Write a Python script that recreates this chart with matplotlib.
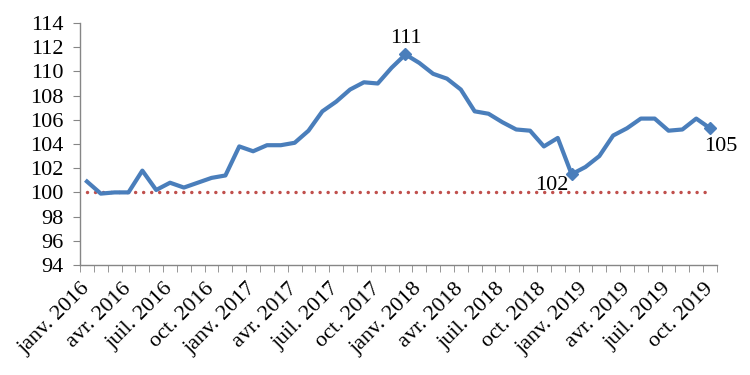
import matplotlib
matplotlib.use("Agg")
import matplotlib.pyplot as plt
import numpy as np

months = ["janv.", "févr.", "mars", "avr.", "mai", "juin", "juil.", "août", "sept.", "oct.", "nov.", "déc."]
years = [2016, 2017, 2018, 2019]
categories = [f"{m} {y}" for y in years for m in months][:46]

values = [100.9, 99.9, 100.0, 100.0, 101.8, 100.2, 100.8, 100.4, 100.8, 101.2,
          101.4, 103.8, 103.4, 103.9, 103.9, 104.1, 105.1, 106.7, 107.5, 108.5,
          109.1, 109.0, 110.3, 111.4, 110.7, 109.8, 109.4, 108.5, 106.7, 106.5,
          105.8, 105.2, 105.1, 103.8, 104.5, 101.5, 102.1, 103.0, 104.7, 105.3,
          106.1, 106.1, 105.1, 105.2, 106.1, 105.3]
reference = [100.0] * len(values)

labelled = {23: "111", 35: "102", 45: "105"}

plt.rcParams['font.family'] = ['Liberation Serif', 'DejaVu Serif']

fig = plt.figure(figsize=(7.5, 3.75), dpi=100)
ax = fig.add_axes([0.1067, 0.2933, 0.956 - 0.1067, 0.9387 - 0.2933])

x = np.arange(len(values))
ax.plot(x, reference, color="#C0504D", linestyle=(0, (0.01, 2.3)), linewidth=2.5,
        dash_capstyle="round", zorder=2)
ax.plot(x, values, color="#4A7EBB", linewidth=3.0, solid_joinstyle="round", zorder=3)

for i, txt in labelled.items():
    ax.plot([x[i]], [values[i]], marker="D", color="#4A7EBB", markersize=6, zorder=4)
    if i == 23:
        ax.annotate(txt, (x[i], values[i]), xytext=(0, 5), textcoords="offset points",
                    ha="center", va="bottom", fontsize=16)
    elif i == 35:
        ax.annotate(txt, (x[i], values[i]), xytext=(-2, -1), textcoords="offset points",
                    ha="right", va="top", fontsize=16)
    else:
        ax.annotate(txt, (x[i], values[i]), xytext=(-4, -6), textcoords="offset points",
                    ha="left", va="top", fontsize=16)

ax.set_xlim(-0.5, len(values) - 0.5)
ax.set_ylim(94, 114)
ax.set_yticks(np.arange(94, 115, 2))
ax.tick_params(axis="y", labelsize=16, length=5, color="#868686", pad=7)

ax.set_xticks(np.arange(-0.5, len(values), 1), minor=True)
ax.set_xticks(x[::3])
ax.set_xticklabels([categories[i] for i in range(0, len(values), 3)], rotation=45,
                   ha="right", va="center", rotation_mode="anchor", fontsize=16)
ax.tick_params(axis="x", which="major", length=0, pad=15)
ax.tick_params(axis="x", which="minor", length=5, color="#868686")

for s in ["top", "right"]:
    ax.spines[s].set_visible(False)
for s in ["left", "bottom"]:
    ax.spines[s].set_color("#868686")
    ax.spines[s].set_linewidth(1.0)

fig.savefig("out.png", dpi=100)
